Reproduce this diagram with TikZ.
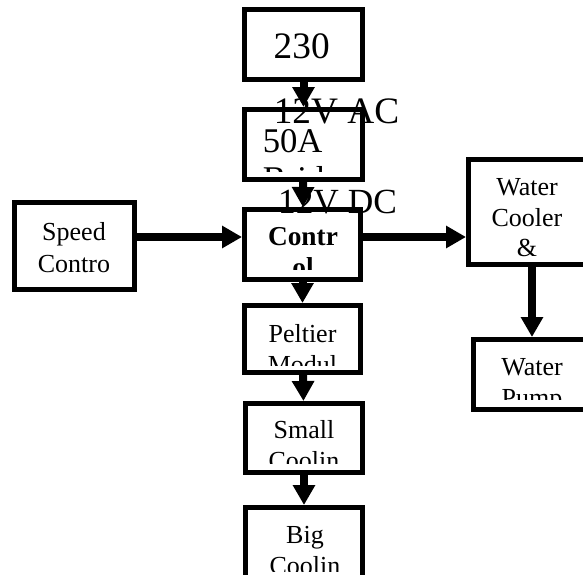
\documentclass[tikz,border=0pt]{standalone}
\usepackage{fontspec}
\setmainfont{Liberation Serif}
\usetikzlibrary{arrows.meta}

\tikzset{
    blk/.style={draw, line width=3.75pt, fill=white, inner sep=0pt,
        minimum width=88.5pt, minimum height=52.5pt},
    txt/.style={inner sep=0pt, anchor=base, font=\fontsize{19.5}{23}\selectfont},
    boldtxt/.style={inner sep=0pt, anchor=base, font=\fontsize{20.5}{24}\selectfont\bfseries},
    volt/.style={inner sep=0pt, anchor=base, font=\fontsize{28}{33}\selectfont},
    amp/.style={inner sep=0pt, anchor=base west, font=\fontsize{26}{31}\selectfont},
    arr/.style={line width=6pt, -{Triangle[width=16pt,length=15pt]}}
}

\begin{document}
\begin{tikzpicture}[x=0.75pt, y=-0.75pt]
    \clip (0,0) rectangle (583,575);

    \node[blk] (vac) at (303.5,44.5) {};
    \node[blk] (rect) at (303.5,144.5) {};
    \node[blk, minimum width=87pt] (ctrl) at (302.5,244.5) {};
    \node[blk, minimum width=87pt, minimum height=50.25pt] (pelt) at (302.5,339) {};
    \node[blk, minimum width=87.75pt, minimum height=51.75pt] (small) at (304,438) {};
    \node[blk, minimum width=87.75pt] (big) at (304,542.5) {};
    \node[blk, minimum width=90pt, minimum height=65.25pt] (speed) at (74.5,246) {};
    \node[blk, minimum width=87.75pt, minimum height=78.75pt] (cool) at (527,212) {};
    \node[blk, minimum width=87.75pt] (pump) at (532,374.5) {};

    \draw[arr] (vac) -- (rect);
    \draw[arr] (rect) -- (ctrl);
    \draw[arr] (ctrl) -- (pelt);
    \draw[arr] (pelt) -- (small);
    \draw[arr] (small) -- (big);
    \draw[arr] ([yshift=6.75pt]speed.east) -- ([yshift=5.625pt]ctrl.west);
    \draw[arr] ([yshift=5.625pt]ctrl.east) -- ([yshift=-18.75pt]cool.west);
    \draw[arr] (pump |- cool.south) -- (pump.north);

    \node[volt] (t230) at (301.7,58) {230};

    \begin{scope}
        \clip (245,110) rectangle (362,171);
        \node[amp] (t50a) at (262.5,152) {50A};
        \node[amp] (tbridge) at (262.5,190) {Bridge};
    \end{scope}

    \node[volt] (tac) at (336.5,123) {12V AC};
    \node[volt, font=\fontsize{26.5}{31}\selectfont] (tdc) at (337.5,213) {12V DC};

    \begin{scope}
        \clip (245,210) rectangle (360,269);
        \node[boldtxt] (tcontr) at (303,245) {Contr};
        \node[boldtxt] (tol) at (303,276) {ol};
    \end{scope}

    \node[txt] (tspeed) at (74,240) {Speed};
    \node[txt] (tcontro) at (74,272) {Contro};

    \node[txt] (tcwater) at (527,195) {Water};
    \node[txt] (tcooler) at (527,226) {Cooler};
    \node[txt] (tand) at (527,256) {\&};

    \begin{scope}
        \clip (474,340) rectangle (583,399.5);
        \node[txt] (tpwater) at (532,375) {Water};
        \node[txt] (tpump) at (532,406) {Pump};
    \end{scope}

    \begin{scope}
        \clip (245,306) rectangle (360,365);
        \node[txt] (tpeltier) at (302.5,342) {Peltier};
        \node[txt] (tmodul) at (302.5,373) {Modul};
    \end{scope}

    \begin{scope}
        \clip (246,404) rectangle (362,463);
        \node[txt] (tsmall) at (304,438) {Small};
        \node[txt] (tscool) at (304,469) {Coolin};
    \end{scope}

    \begin{scope}
        \clip (246,508) rectangle (362,571);
        \node[txt] (tbig) at (305,543) {Big};
        \node[txt] (tbcool) at (305,574) {Coolin};
    \end{scope}
\end{tikzpicture}
\end{document}
